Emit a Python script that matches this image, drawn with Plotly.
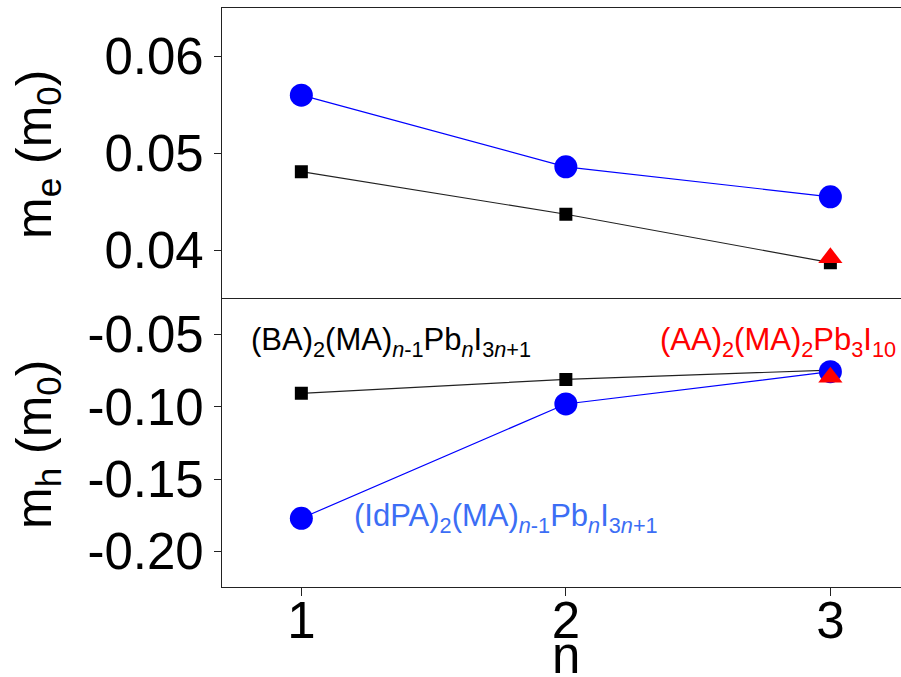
import plotly.graph_objects as go
from plotly.subplots import make_subplots

# Layer count n of the Ruddlesden-Popper perovskites
n_values = [1, 2, 3]

# Electron effective masses (m0)
me_ba = [0.0481, 0.0437, 0.0387]
me_idpa = [0.0560, 0.0486, 0.0455]
me_aa = [0.0392]

# Hole effective masses (m0)
mh_ba = [-0.0907, -0.0811, -0.0747]
mh_idpa = [-0.1771, -0.0981, -0.0758]
mh_aa = [-0.0797]

n_aa = [3]

x_ticks = [1, 2, 3]
me_ticks = [0.04, 0.05, 0.06]
mh_ticks = [-0.20, -0.15, -0.10, -0.05]

FONT = "Liberation Sans, Arial, Helvetica, sans-serif"
BLUE = "#0000FF"
RED = "#FF0000"
BLACK = "#000000"
LABEL_BLUE = "#3C6EF5"

fig = make_subplots(rows=2, cols=1, shared_xaxes=True, vertical_spacing=0)


def add_series(row, ba, idpa, aa):
    fig.add_trace(go.Scatter(
        x=n_values, y=ba, mode="lines+markers",
        line=dict(color="#222222", width=1.2),
        marker=dict(symbol="square", size=13, color=BLACK),
        showlegend=False), row=row, col=1)
    fig.add_trace(go.Scatter(
        x=n_values, y=idpa, mode="lines+markers",
        line=dict(color=BLUE, width=1.2),
        marker=dict(symbol="circle", size=23, color=BLUE),
        showlegend=False), row=row, col=1)
    fig.add_trace(go.Scatter(
        x=n_aa, y=aa, mode="markers",
        marker=dict(symbol="triangle-up", size=21, color=RED),
        showlegend=False), row=row, col=1)


add_series(1, me_ba, me_idpa, me_aa)
add_series(2, mh_ba, mh_idpa, mh_aa)

axis_line = dict(showline=True, linecolor="#222222", linewidth=1.2,
                 showgrid=False, zeroline=False)

fig.update_xaxes(range=[0.7, 3.267], tickvals=x_ticks, **axis_line)
fig.update_xaxes(row=1, col=1, mirror=True, ticks="", showticklabels=False)
fig.update_xaxes(row=2, col=1, ticks="outside", ticklen=8, tickwidth=1,
                 tickcolor="#222222", ticklabelstandoff=-19,
                 tickfont=dict(family=FONT, size=51, color=BLACK))

fig.update_yaxes(row=1, col=1, range=[0.0351, 0.0650], tickvals=me_ticks,
                 ticktext=[f"{v:.2f}" for v in me_ticks],
                 ticks="outside", ticklen=7, tickcolor="#222222",
                 tickfont=dict(family=FONT, size=51, color=BLACK), **axis_line)
fig.update_yaxes(row=2, col=1, range=[-0.2246, -0.0245], tickvals=mh_ticks,
                 ticktext=[f"{v:.2f}" for v in mh_ticks],
                 ticks="outside", ticklen=7, tickcolor="#222222",
                 tickfont=dict(family=FONT, size=51, color=BLACK), **axis_line)

annotations = [
    # axis titles
    dict(text="m<sub>e</sub> (m<sub>0</sub>)", xref="paper", yref="paper",
         x=-0.272, y=0.7466, xanchor="center", yanchor="middle",
         textangle=-90, showarrow=False,
         font=dict(family=FONT, size=50, color=BLACK)),
    dict(text="m<sub>h</sub> (m<sub>0</sub>)", xref="paper", yref="paper",
         x=-0.272, y=0.2458, xanchor="center", yanchor="middle",
         textangle=-90, showarrow=False,
         font=dict(family=FONT, size=50, color=BLACK)),
    dict(text="n", xref="x2", yref="paper", x=2, y=-0.118,
         xanchor="center", yanchor="middle", showarrow=False,
         font=dict(family=FONT, size=51, color=BLACK)),
    # series labels
    dict(text="(BA)<sub>2</sub>(MA)<sub><i>n</i>-1</sub>Pb<sub><i>n</i></sub>I<sub>3<i>n</i>+1</sub>",
         xref="x2", yref="y2", x=0.801, y=-0.0555,
         xanchor="left", yanchor="middle", showarrow=False,
         font=dict(family=FONT, size=31, color=BLACK)),
    dict(text="(AA)<sub>2</sub>(MA)<sub>2</sub>Pb<sub>3</sub>I<sub>10</sub>",
         xref="x2", yref="y2", x=3.255, y=-0.0555,
         xanchor="right", yanchor="middle", showarrow=False,
         font=dict(family=FONT, size=31, color=RED)),
    dict(text="(IdPA)<sub>2</sub>(MA)<sub><i>n</i>-1</sub>Pb<sub><i>n</i></sub>I<sub>3<i>n</i>+1</sub>",
         xref="x2", yref="y2", x=1.193, y=-0.1767,
         xanchor="left", yanchor="middle", showarrow=False,
         font=dict(family=FONT, size=31, color=LABEL_BLUE)),
]

fig.update_layout(
    width=901, height=677,
    margin=dict(l=222, r=0, t=8, b=90),
    plot_bgcolor="white", paper_bgcolor="white",
    annotations=annotations,
    font=dict(family=FONT),
)

fig.write_html("out.html")
